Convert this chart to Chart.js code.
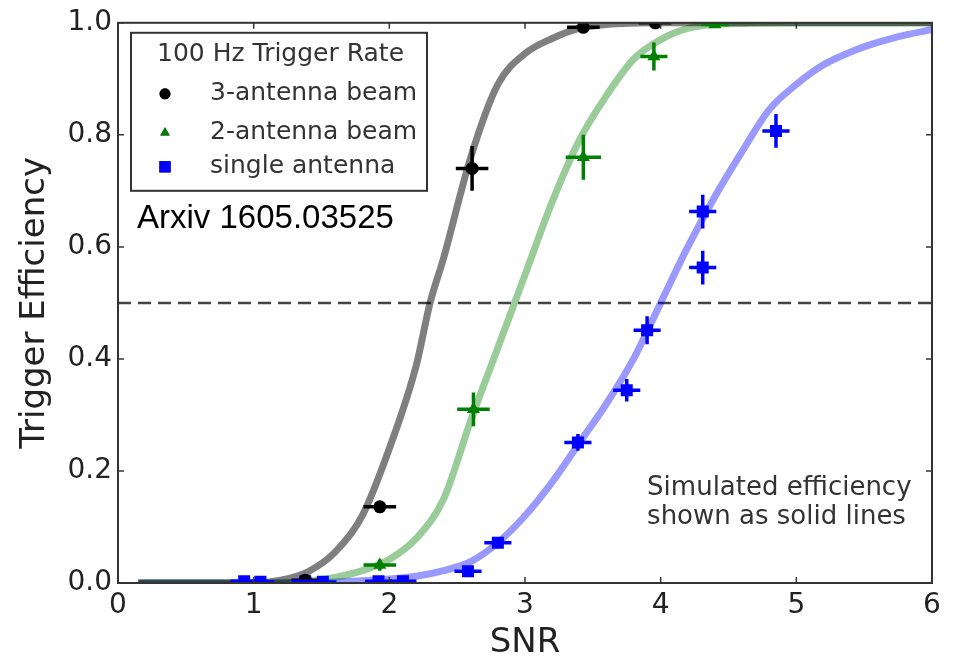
<!DOCTYPE html>
<html>
<head>
<meta charset="utf-8">
<title>Trigger Efficiency vs SNR</title>
<script src="https://cdn.jsdelivr.net/npm/chart.js@4.4.0/dist/chart.umd.min.js"></script>
<style>
  html, body { margin: 0; padding: 0; background: #fff; }
  #wrap { width: 958px; height: 660px; }
</style>
</head>
<body>
<div id="wrap"><canvas id="effChart" width="958" height="660"></canvas></div>
<script>
  // measured points: 3-antenna beam
  const beam3X = [1.38, 1.93, 2.61, 3.43, 3.96];
  const beam3Y = [0.005, 0.136, 0.74, 0.992, 1.0];
  const beam3XErr = [0.1, 0.12, 0.12, 0.12, 0.12];
  const beam3YErr = [0.005, 0.01, 0.04, 0.008, 0.0];

  // measured points: 2-antenna beam
  const beam2X = [1.93, 2.62, 3.43, 3.95, 4.4];
  const beam2Y = [0.032, 0.31, 0.76, 0.94, 0.997];
  const beam2XErr = [0.12, 0.12, 0.13, 0.1, 0.1];
  const beam2YErr = [0.01, 0.03, 0.04, 0.025, 0.005];

  // measured points: single antenna
  const singleX = [0.93, 1.05, 1.38, 1.51, 1.92, 2.1, 2.58, 2.8, 3.39, 3.75, 3.9, 4.31, 4.31, 4.85];
  const singleY = [0.003, 0.002, 0.003, 0.002, 0.003, 0.003, 0.021, 0.072, 0.251, 0.344, 0.451, 0.563, 0.663, 0.807];
  const singleXErr = [0.1, 0.1, 0.1, 0.1, 0.1, 0.1, 0.1, 0.1, 0.1, 0.1, 0.1, 0.1, 0.1, 0.1];
  const singleYErr = [0.003, 0.003, 0.003, 0.003, 0.003, 0.004, 0.008, 0.01, 0.015, 0.02, 0.025, 0.03, 0.03, 0.03];

  // simulated efficiency curves
  const sim3X = [0.15, 1.0, 1.2, 1.4, 1.6, 1.8, 2.0, 2.2, 2.3, 2.4, 2.6, 2.8, 3.0, 3.2, 3.4, 3.6, 4.0, 5.0, 6.0];
  const sim3Y = [0, 0, 0.005, 0.02, 0.055, 0.12, 0.24, 0.39, 0.5, 0.58, 0.76, 0.89, 0.945, 0.972, 0.99, 0.997, 1.0, 1.0, 1.0];
  const sim2X = [0.15, 1.2, 1.4, 1.6, 1.8, 2.0, 2.2, 2.4, 2.6, 2.8, 3.0, 3.2, 3.4, 3.6, 3.8, 4.0, 4.2, 4.4, 5.0, 6.0];
  const sim2Y = [0, 0, 0.003, 0.01, 0.022, 0.042, 0.08, 0.15, 0.29, 0.42, 0.55, 0.68, 0.79, 0.87, 0.935, 0.97, 0.99, 0.997, 1.0, 1.0];
  const sim1X = [0.15, 1.4, 1.6, 1.8, 2.0, 2.2, 2.4, 2.6, 2.8, 3.0, 3.2, 3.4, 3.6, 3.8, 4.0, 4.2, 4.4, 4.6, 4.8, 5.0, 5.2, 5.4, 5.6, 5.8, 6.0];
  const sim1Y = [0, 0, 0.002, 0.004, 0.007, 0.012, 0.022, 0.038, 0.072, 0.12, 0.18, 0.25, 0.32, 0.4, 0.5, 0.6, 0.69, 0.77, 0.845, 0.89, 0.925, 0.948, 0.965, 0.978, 0.988];

  // 50% reference line
  const halfX = [0, 6];
  const halfY = [0.5, 0.5];

  const xTicks = [0, 1, 2, 3, 4, 5, 6];
  const yTicks = [0, 0.2, 0.4, 0.6, 0.8, 1.0];

  const legendTitle = '100 Hz Trigger Rate';
  const legendLabels = ['3-antenna beam', '2-antenna beam', 'single antenna'];
  const noteLines = ['Simulated efficiency', 'shown as solid lines'];
  const arxivText = 'Arxiv 1605.03525';

  const pts = (xs, ys) => xs.map((v, i) => ({ x: v, y: ys[i] }));

  function curve(xs, ys, color) {
    return {
      type: 'line',
      data: pts(xs, ys),
      borderColor: color,
      borderWidth: 7,
      pointRadius: 0,
      fill: false,
      cubicInterpolationMode: 'monotone',
      order: 2
    };
  }

  function measured(label, xs, ys, xe, ye, color, style, radius) {
    return {
      label: label,
      data: pts(xs, ys),
      xErr: xe,
      yErr: ye,
      backgroundColor: color,
      borderColor: color,
      borderWidth: 0,
      pointStyle: style,
      pointRadius: radius,
      order: 0
    };
  }

  const measuredSets = [
    measured(legendLabels[0], beam3X, beam3Y, beam3XErr, beam3YErr, '#000000', 'circle', 6.5),
    measured(legendLabels[1], beam2X, beam2Y, beam2XErr, beam2YErr, '#008000', 'triangle', 7.5),
    measured(legendLabels[2], singleX, singleY, singleXErr, singleYErr, '#0000ff', 'rect', 8.5)
  ];

  // horizontal + vertical error bars, clipped to the axes box
  const errorBars = {
    id: 'errorBars',
    afterDatasetsDraw(chart) {
      const { ctx, chartArea: a, scales: { x, y } } = chart;
      ctx.save();
      ctx.beginPath();
      ctx.rect(a.left, a.top, a.right - a.left, a.bottom - a.top);
      ctx.clip();
      chart.data.datasets.forEach(ds => {
        if (!ds.xErr) return;
        ctx.strokeStyle = ds.backgroundColor;
        ctx.lineWidth = 3.5;
        ds.data.forEach((p, j) => {
          const px = x.getPixelForValue(p.x);
          const py = y.getPixelForValue(p.y);
          ctx.beginPath();
          ctx.moveTo(x.getPixelForValue(p.x - ds.xErr[j]), py);
          ctx.lineTo(x.getPixelForValue(p.x + ds.xErr[j]), py);
          if (ds.yErr[j] > 0.006) {
            ctx.moveTo(px, y.getPixelForValue(p.y - ds.yErr[j]));
            ctx.lineTo(px, y.getPixelForValue(p.y + ds.yErr[j]));
          }
          ctx.stroke();
        });
      });
      ctx.restore();
    }
  };

  // frame, inward tick marks, legend box and notes
  const decorations = {
    id: 'decorations',
    afterDraw(chart) {
      const { ctx, chartArea: a, scales: { x, y } } = chart;
      ctx.save();
      ctx.strokeStyle = '#333';
      ctx.lineWidth = 2;
      ctx.strokeRect(a.left, a.top, a.right - a.left, a.bottom - a.top);

      ctx.lineWidth = 1.5;
      ctx.beginPath();
      xTicks.forEach(v => {
        const px = x.getPixelForValue(v);
        ctx.moveTo(px, a.bottom); ctx.lineTo(px, a.bottom - 6);
        ctx.moveTo(px, a.top); ctx.lineTo(px, a.top + 6);
      });
      yTicks.forEach(v => {
        const py = y.getPixelForValue(v);
        ctx.moveTo(a.left, py); ctx.lineTo(a.left + 6, py);
        ctx.moveTo(a.right, py); ctx.lineTo(a.right - 6, py);
      });
      ctx.stroke();

      // legend
      const lx = a.left + 13, ly = a.top + 10;
      ctx.fillStyle = '#fff';
      ctx.fillRect(lx, ly, 296, 158);
      ctx.strokeStyle = '#333';
      ctx.lineWidth = 2;
      ctx.strokeRect(lx, ly, 296, 158);

      ctx.font = '25px "DejaVu Sans"';
      ctx.textBaseline = 'middle';
      ctx.textAlign = 'left';
      ctx.fillStyle = '#333';
      ctx.fillText(legendTitle, lx + 26, ly + 22);
      const rowY = [ly + 61, ly + 100, ly + 134];
      measuredSets.forEach((ds, i) => {
        Chart.helpers.drawPoint(ctx, {
          pointStyle: ds.pointStyle,
          radius: ds.pointStyle === 'rect' ? 8 : 5.5,
          rotation: 0,
          borderWidth: 0
        }, lx + 34, rowY[i]);
        ctx.fillStyle = ds.backgroundColor;
        ctx.fill();
        ctx.fillStyle = '#333';
        ctx.fillText(legendLabels[i], lx + 79, rowY[i]);
      });

      ctx.fillStyle = '#000';
      ctx.font = '33px "Liberation Sans"';
      ctx.fillText(arxivText, a.left + 19, a.top + 196);

      ctx.fillStyle = '#333';
      ctx.font = '26px "DejaVu Sans"';
      ctx.fillText(noteLines[0], x.getPixelForValue(3.9), y.getPixelForValue(0.17));
      ctx.fillText(noteLines[1], x.getPixelForValue(3.9), y.getPixelForValue(0.117));
      ctx.restore();
    }
  };

  const tickFont = { family: 'DejaVu Sans', size: 28 };
  const titleFont = { family: 'DejaVu Sans', size: 34, lineHeight: 1 };

  new Chart(document.getElementById('effChart'), {
    type: 'scatter',
    data: {
      datasets: [
        ...measuredSets,
        curve(sim3X, sim3Y, 'rgba(0,0,0,0.5)'),
        curve(sim2X, sim2Y, 'rgba(0,128,0,0.4)'),
        curve(sim1X, sim1Y, 'rgba(0,0,255,0.4)'),
        {
          type: 'line',
          data: pts(halfX, halfY),
          borderColor: '#444',
          borderWidth: 2.5,
          borderDash: [13, 7],
          pointRadius: 0,
          order: 3
        }
      ]
    },
    options: {
      responsive: false,
      animation: false,
      devicePixelRatio: 1,
      layout: { padding: { top: 22, right: 26, left: 0, bottom: 0 } },
      plugins: { legend: { display: false }, tooltip: { enabled: false } },
      scales: {
        x: {
          type: 'linear',
          min: 0,
          max: 6,
          afterFit: s => { s.height = 77; },
          afterBuildTicks: s => { s.ticks = xTicks.map(v => ({ value: v })); },
          grid: { display: false, drawTicks: false },
          border: { display: false },
          ticks: { font: tickFont, color: '#222', padding: 6, maxRotation: 0 },
          title: {
            display: true,
            text: 'SNR',
            font: titleFont,
            color: '#222',
            padding: { top: -3, bottom: 0 }
          }
        },
        y: {
          type: 'linear',
          min: 0,
          max: 1,
          afterFit: s => { s.width = 118; },
          afterBuildTicks: s => { s.ticks = yTicks.map(v => ({ value: v })); },
          grid: { display: false, drawTicks: false },
          border: { display: false },
          ticks: {
            font: tickFont,
            color: '#222',
            padding: 6,
            callback: v => v.toFixed(1)
          },
          title: {
            display: true,
            text: 'Trigger Efficiency',
            font: titleFont,
            color: '#222',
            padding: { top: 18, bottom: 0 }
          }
        }
      }
    },
    plugins: [errorBars, decorations]
  });
</script>
</body>
</html>
